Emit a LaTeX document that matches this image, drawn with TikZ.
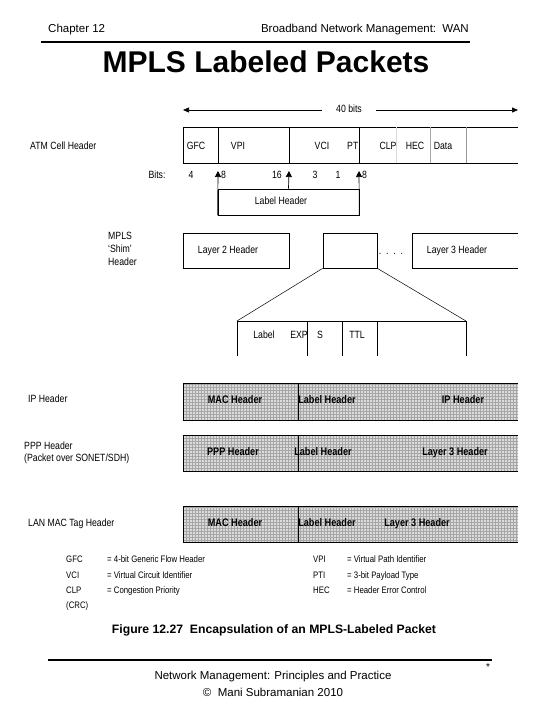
\documentclass[tikz,border=0pt]{standalone}
\usepackage{fontspec}
\setmainfont{Liberation Sans}
\newfontfamily\narf[FakeStretch=0.83,Ligatures=TeX]{Liberation Sans}
\usetikzlibrary{arrows.meta,patterns}
\begin{document}
\begin{tikzpicture}[x=1pt,y=-1pt,
  txt/.style={inner sep=0pt, text height=7.6pt, text depth=2.2pt, font=\narf\fontsize{10.5}{12}\selectfont},
  btxt/.style={inner sep=0pt, text height=7.6pt, text depth=2.2pt, font=\narf\fontsize{11}{12}\selectfont\bfseries},
  hdr/.style={inner sep=0pt, font=\fontsize{11.5}{13}\selectfont},
  ttl/.style={inner sep=0pt, font=\fontsize{30}{34}\selectfont\bfseries},
  leg/.style={inner sep=0pt, anchor=west, text height=7pt, text depth=2pt, font=\narf\fontsize{9.4}{11}\selectfont},
  fld/.style={line width=0.7pt},
  boxn/.style={draw, line width=0.7pt, inner sep=0pt},
  uptip/.style={line width=0.7pt, -{Triangle[length=6pt,width=6pt]}},
  shade/.style={fill=gray!28},
  grid/.style={pattern=grid, pattern color=gray!70}]
\useasboundingbox (0,0) rectangle (540,720);

% header
\node[hdr, anchor=west] (chap) at (48,30) {Chapter 12};
\node[hdr, anchor=east] (sub) at (469,30) {Broadband Network Management:\, WAN};
\draw[line width=2pt] (41,41.5) -- (470,41.5);
\node[ttl] (title) at (266,62) {MPLS Labeled Packets};

% 40 bits
\node[txt, fill=white, inner xsep=14pt] (forty) at (349,110) {40 bits};
\coordinate (fl40) at (183,110);
\coordinate (fr40) at (518,110);
\draw[line width=0.7pt, -{Triangle[length=6pt,width=5pt]}] (forty.west) -- (fl40);
\draw[line width=0.7pt, -{Triangle[length=6pt,width=5pt]}] (forty.east) -- (fr40);

% ATM cell header
\node[txt, anchor=west] (atm) at (30,147) {ATM Cell Header};
\draw[fld] (518,127) -- (183,127) -- (183,163) -- (518,163);
\draw[fld] (218,127) -- (218,163);
\draw[fld] (289,127) -- (289,163);
\draw[fld] (359,127) -- (359,163);
\draw[line width=0.5pt, gray!30] (396,127) -- (396,163);
\draw[line width=0.7pt, gray!70] (430,127) -- (430,163);
\draw[line width=0.5pt, gray!80] (466,127) -- (466,163);
\node[txt] (gfc) at (196,147) {GFC};
\node[txt] (vpi) at (238,147) {VPI};
\node[txt] (vci) at (322,147) {VCI};
\node[txt] (pti) at (354,147) {PTI};
\node[txt] (clp) at (388,147) {CLP};
\node[txt] (hec) at (415,147) {HEC};
\node[txt] (data) at (443,147) {Data};

% bits row
\node[txt] (bits) at (157,176) {Bits:};
\node[txt] (b4) at (191,176) {4};
\node[txt, anchor=west] (b8a) at (221,176) {8};
\node[txt, anchor=east] (b16) at (282,176) {16};
\node[txt] (b3) at (315,176) {3};
\node[txt] (b1) at (338,176) {1};
\node[txt, anchor=west] (b8b) at (362,176) {8};

% label header box with arrows
\node[boxn, minimum width=141pt, minimum height=26pt] (lh) at (288.5,202) {};
\node[txt] (lht) at (281,202) {Label Header};
\coordinate (ta) at (218,171);
\coordinate (tb) at (289,171);
\coordinate (tc) at (359,171);
\draw[uptip] (lh.south west) -- (ta);
\draw[uptip] (lh.north) -- (tb);
\draw[uptip] (lh.south east) -- (tc);

% MPLS shim header
\node[txt, anchor=west] (m1) at (108,237) {MPLS};
\node[txt, anchor=west] (m2) at (108,250) {‘Shim’};
\node[txt, anchor=west] (m3) at (108,263) {Header};
\node[boxn, minimum width=106pt, minimum height=35pt] (l2) at (236,250.5) {};
\node[txt] (l2t) at (228,251) {Layer 2 Header};
\node[boxn, minimum width=54pt, minimum height=35pt] (shim) at (350,250.5) {};
\node[txt] (dots) at (391,252) {.\ \ .\ \ .\ \ .};
\draw[fld] (518,233) -| (412,268) -- (518,268);
\node[txt] (l3) at (457,251) {Layer 3 Header};

% shim fields
\coordinate (fl) at (237,321);
\coordinate (fr) at (466,321);
\draw[fld] (237,356) -- (fl) -- (fr) -- (466,356);
\draw[fld] (307,321) -- (307,356);
\draw[fld] (342,321) -- (342,356);
\draw[fld] (377,321) -- (377,356);
\draw[line width=0.5pt] (shim.south west) -- (fl);
\draw[line width=0.5pt] (shim.south east) -- (fr);
\node[txt] (lab) at (264,336) {Label};
\node[txt] (exp) at (299,336) {EXP};
\node[txt] (s) at (320,336) {S};
\node[txt] (ttl) at (357,336) {TTL};

% shaded rows
\foreach \t/\b in {383/420,435/471,506/542}{
  \fill[shade] (183,\t) rectangle (518,\b);
  \fill[grid] (183,\t) rectangle (518,\b);
  \draw[fld] (518,\t) -- (183,\t) -- (183,\b) -- (518,\b);
  \draw[fld] (298,\t) -- (298,\b);
}
\node[txt, anchor=west] (iph) at (28,400) {IP Header};
\node[btxt] (r1a) at (235,401) {MAC Header};
\node[btxt] (r1b) at (327,401) {Label Header};
\node[btxt] (r1c) at (463,401) {IP Header};

\node[txt, anchor=west] (pph) at (24,447) {PPP Header};
\node[txt, anchor=west] (pos) at (24,459) {(Packet over SONET/SDH)};
\node[btxt] (r2a) at (233,453) {PPP Header};
\node[btxt] (r2b) at (323,453) {Label Header};
\node[btxt] (r2c) at (455,453) {Layer 3 Header};

\node[txt, anchor=west] (lan) at (28,524) {LAN MAC Tag Header};
\node[btxt] (r3a) at (235,524) {MAC Header};
\node[btxt] (r3b) at (327,524) {Label Header};
\node[btxt] (r3c) at (417,524) {Layer 3 Header};

% legend
\node[leg] (g1) at (66,560) {GFC};
\node[leg] (g1d) at (107,560) {= 4-bit Generic Flow Header};
\node[leg] (g2) at (66,576) {VCI};
\node[leg] (g2d) at (107,576) {= Virtual Circuit Identifier};
\node[leg] (g3) at (66,591) {CLP};
\node[leg] (g3d) at (107,591) {= Congestion Priority};
\node[leg] (g4) at (66,606) {(CRC)};
\node[leg] (h1) at (313,560) {VPI};
\node[leg] (h1d) at (347,560) {= Virtual Path Identifier};
\node[leg] (h2) at (313,576) {PTI};
\node[leg] (h2d) at (347,576) {= 3-bit Payload Type};
\node[leg] (h3) at (313,591) {HEC};
\node[leg] (h3d) at (347,591) {= Header Error Control};

% caption
\node[inner sep=0pt, font=\fontsize{12.2}{14}\selectfont\bfseries] (cap) at (274,630) {Figure 12.27\ \ Encapsulation of an MPLS-Labeled Packet};

% footer
\draw[line width=2pt] (48,659.5) -- (492,659.5);
\node[inner sep=0pt, font=\fontsize{10}{12}\selectfont] (star) at (488,667) {*};
\node[hdr] (f1) at (273,677) {Network Management: Principles and Practice};
\node[hdr] (f2) at (273,692) {\textcopyright\ \ Mani Subramanian 2010};
\end{tikzpicture}
\end{document}
